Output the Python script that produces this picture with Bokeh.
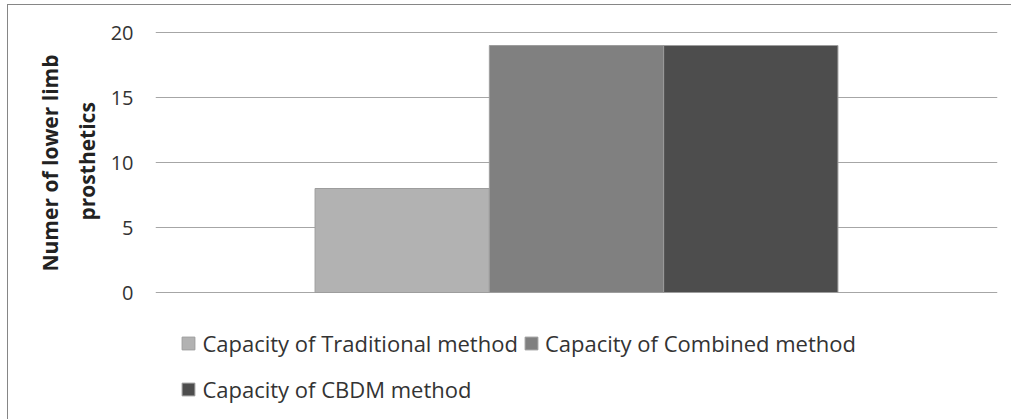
from bokeh.plotting import figure
from bokeh.models import (ColumnDataSource, FactorRange, Range1d, FixedTicker,
                          Legend, LegendItem, Title)
from bokeh.transform import dodge
from bokeh.embed import file_html
from bokeh.resources import INLINE

# Data
categories = ["1"]
series_names = ["Capacity of Traditional method",
                "Capacity of Combined method",
                "Capacity of CBDM method"]
series_values = [8, 19, 19]
series_colors = ["#b2b2b2", "#808080", "#4d4d4d"]
y_ticks = [0, 5, 10, 15, 20]
y_title_lines = ["Numer of lower limb", "prosthetics"]

FONT = "Open Sans"
TEXT = "#333333"
GRID = "#a6a6a6"
BORDER = "#868686"

# Canvas geometry (px). The plotting frame runs down to the canvas bottom so
# the legend rows can sit inside it under the value area.
W, H = 1004, 415
LEFT, RIGHT, TOP = 147, 15, 26
ZERO_PX, TOP_TICK_PX = 287, 27          # canvas rows of the 0 and 20 gridlines
unit = (ZERO_PX - TOP_TICK_PX) / (y_ticks[-1] - y_ticks[0])
y_end = y_ticks[-1] + (TOP_TICK_PX - TOP) / unit
y_start = y_ticks[0] - (H - ZERO_PX) / unit

p = figure(width=W, height=H, output_backend="svg", toolbar_location=None,
           x_range=FactorRange(factors=categories), y_range=Range1d(y_start, y_end),
           x_axis_location=None,
           min_border_left=LEFT, min_border_right=RIGHT, min_border_top=TOP,
           min_border_bottom=0)
p.outline_line_color = None
p.background_fill_color = "white"
p.border_fill_color = "white"
# outer chart box (left and top edges)
p.styles = {"border-left": f"1px solid {BORDER}", "border-top": f"1px solid {BORDER}",
            "margin-left": "7px", "margin-top": "4px"}

# Clustered bars: one category, three series side by side
bar_w = 0.207
offsets = [-bar_w, 0.0, bar_w]
renderers = []
for name, val, col, off in zip(series_names, series_values, series_colors, offsets):
    src = ColumnDataSource(dict(cat=categories, value=[val]))
    r = p.vbar(x=dodge("cat", off, range=p.x_range), top="value", width=bar_w,
               source=src, fill_color=col, line_color="#9d9d9d", line_width=1)
    renderers.append(r)

# Axes and grid
p.xgrid.visible = False
p.ygrid.ticker = FixedTicker(ticks=y_ticks)
p.ygrid.grid_line_color = GRID
p.ygrid.grid_line_width = 1
p.yaxis.ticker = FixedTicker(ticks=y_ticks)
p.yaxis.axis_line_color = None
p.yaxis.major_tick_line_color = None
p.yaxis.minor_tick_line_color = None
p.yaxis.major_tick_out = 0
p.yaxis.major_tick_in = 0
p.yaxis.minor_tick_out = 0
p.yaxis.major_label_standoff = 22
p.yaxis.major_label_text_font = FONT
p.yaxis.major_label_text_font_size = "20px"
p.yaxis.major_label_text_color = TEXT

# Two-line value-axis title; each line starts (bottom end) at the given
# distance above the canvas bottom so both are centred on the 0..20 band.
title_starts = {"Numer of lower limb": 149, "prosthetics": 200}
title_standoff = {"Numer of lower limb": 0, "prosthetics": 14}
for line in reversed(y_title_lines):
    p.add_layout(Title(text=line, align="left", offset=title_starts[line],
                       text_font=FONT, text_font_style="bold",
                       text_font_size="21px", text_color="#222222",
                       standoff=title_standoff[line]), "left")


def make_legend(items, loc):
    lg = Legend(items=items, location=loc, orientation="horizontal",
                padding=0, margin=0, spacing=5,
                glyph_width=16, glyph_height=16, label_height=16,
                label_standoff=6, border_line_color=None,
                background_fill_alpha=0,
                label_text_font=FONT, label_text_font_size="22px",
                label_text_color=TEXT)
    p.add_layout(lg)
    return lg


make_legend([LegendItem(label=series_names[0], renderers=[renderers[0]]),
             LegendItem(label=series_names[1], renderers=[renderers[1]])],
            (25.4, 62.5))
make_legend([LegendItem(label=series_names[2], renderers=[renderers[2]])],
            (25.4, 16))

open("out.html", "w").write(file_html(p, INLINE))
